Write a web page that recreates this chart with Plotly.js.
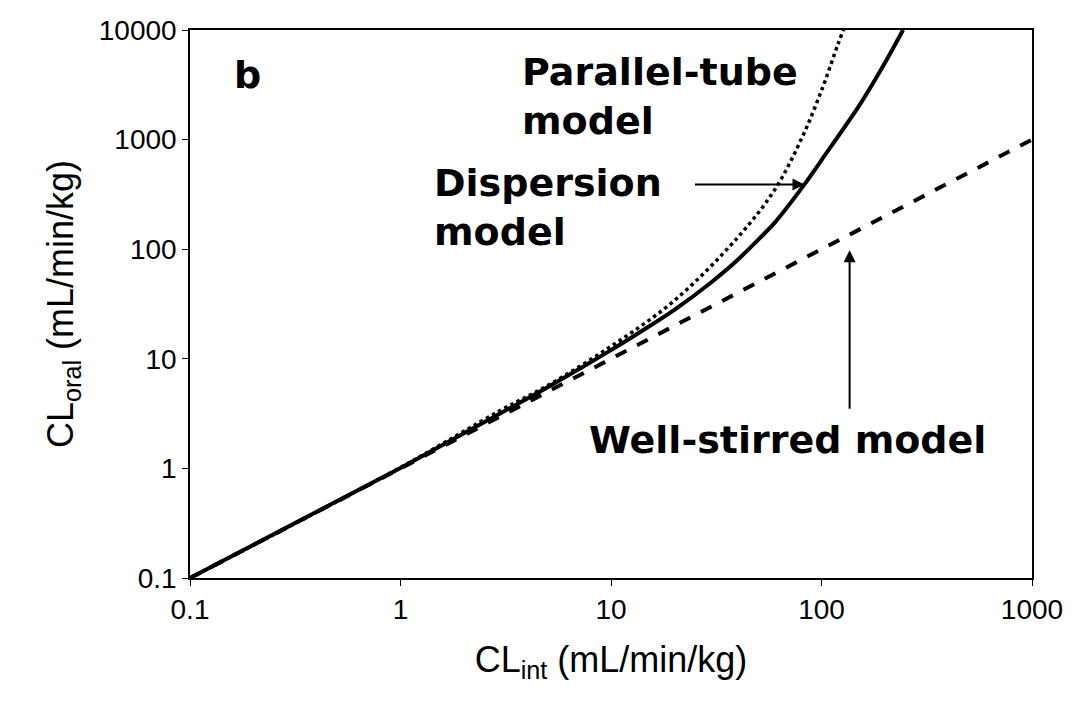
<html><head><script src="https://cdn.plot.ly/plotly-3.0.1.min.js"></script></head>
<body style="margin:0"><div id="plot" style="width:1078px;height:711px"></div>
<script>
// values
var wellX = [0.1, 1, 10, 100, 1000];
var wellY = [0.1, 1, 10, 100, 1000];
var dispX = [0.1, 1, 3, 5, 10, 15, 20, 30, 40, 60, 83, 100, 150, 200, 244];
var dispY = [0.1, 1.01, 3.2, 5.5, 12, 19.5, 28, 50, 80, 175, 390, 650, 2000, 5000, 10000];
var tubeX = [0.1, 1, 3, 5, 10, 20, 40, 60, 80, 100, 120, 134];
var tubeY = [0.1, 1.02, 3.4, 5.7, 13, 34, 128, 350, 1000, 2800, 7500, 13000];

var fam = 'Liberation Sans, Arial, sans-serif';
var font = {family: fam, size: 28, color: '#000'};
var bold = {family: 'DejaVu Sans, sans-serif', size: 38, color: '#000', weight: 'bold'};

var traces = [
  {x: wellX, y: wellY, mode: 'lines', line: {color: '#000', width: 4, dash: 'dash'}},
  {x: dispX, y: dispY, mode: 'lines', line: {color: '#000', width: 4, shape: 'spline', smoothing: 0.6}},
  {x: tubeX, y: tubeY, mode: 'lines', line: {color: '#000', width: 3.5, dash: 'dot', shape: 'spline'}}
];

var axis = {type: 'log', showgrid: false, zeroline: false, showline: true, mirror: true,
  linecolor: '#000', linewidth: 1.5, ticks: 'outside', ticklen: 6, tickcolor: '#000', tickfont: font};

var layout = {
  width: 1078, height: 711, showlegend: false,
  margin: {l: 190, r: 46, t: 30, b: 133},
  paper_bgcolor: '#fff', plot_bgcolor: '#fff',
  xaxis: Object.assign({}, axis, {range: [-1, 3], tickvals: [0.1, 1, 10, 100, 1000], ticktext: ['0.1', '1', '10', '100', '1000'],
    title: {text: 'CL<sub>int</sub> (mL/min/kg)', font: {family: fam, size: 36, color: '#000'}, standoff: 22}}),
  yaxis: Object.assign({}, axis, {range: [-1, 4], tickvals: [0.1, 1, 10, 100, 1000, 10000], ticktext: ['0.1', '1', '10', '100', '1000', '10000'],
    title: {text: 'CL<sub>oral</sub> (mL/min/kg)', font: {family: fam, size: 36, color: '#000'}, standoff: 14}}),
  annotations: [
    {x: -0.8, y: 3.59, text: 'b', showarrow: false, font: bold, xanchor: 'left'},
    {x: 0.568, y: 3.39, text: 'Parallel-tube<br>model', align: 'left', showarrow: false, font: bold, xanchor: 'left'},
    {x: 0.15, y: 2.385, text: 'Dispersion<br>model', align: 'left', showarrow: false, font: bold, xanchor: 'left'},
    {x: 0.886, y: 0.26, text: 'Well-stirred model', showarrow: false, font: bold, xanchor: 'left'},
    {x: Math.log10(83), y: Math.log10(390), ax: -111, ay: 0, text: '',
      showarrow: true, arrowhead: 2, arrowsize: 1.2, arrowwidth: 2, arrowcolor: '#000'},
    {x: Math.log10(136), y: Math.log10(98), ax: 0, ay: 160, text: '',
      showarrow: true, arrowhead: 2, arrowsize: 1.2, arrowwidth: 2, arrowcolor: '#000'}
  ]
};

Plotly.newPlot('plot', traces, layout, {displayModeBar: false});
</script></body></html>
